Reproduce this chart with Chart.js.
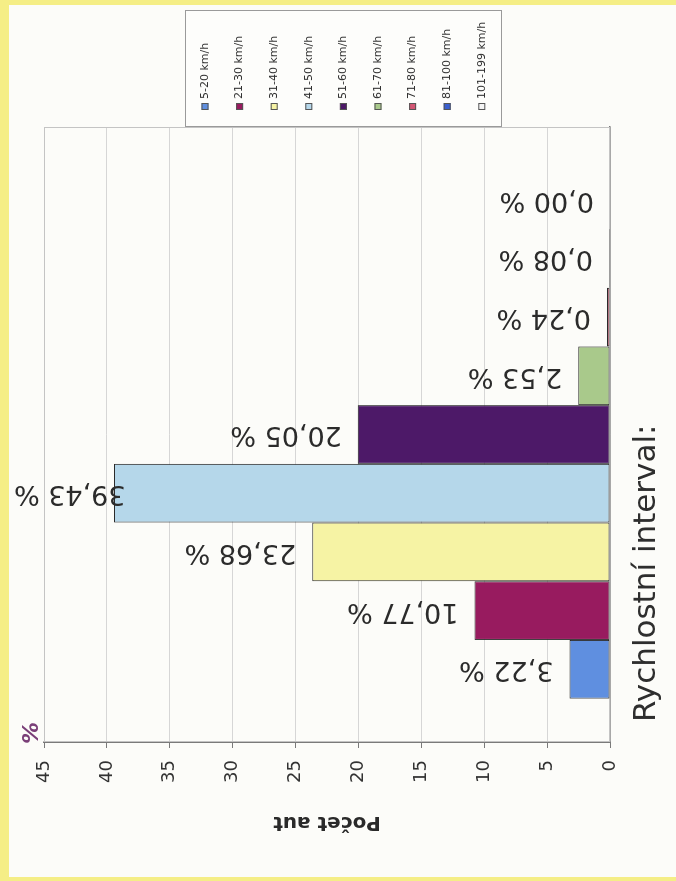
<!DOCTYPE html>
<html>
<head>
<meta charset="utf-8">
<script src="https://cdn.jsdelivr.net/npm/chart.js@4.4.1/dist/chart.umd.min.js"></script>
<style>
  html, body { margin:0; padding:0; width:676px; height:881px; overflow:hidden; background:#f5ee86; }
  #page { position:absolute; left:9px; top:5px; width:700px; height:872px; background:#fcfcf9; }
  /* the scanned chart is lying on its side: draw it upright, then turn it */
  #turn { position:absolute; left:0; top:0; width:881px; height:676px;
          transform-origin:0 0; transform:translateY(881px) rotate(-90deg); }
</style>
</head>
<body>
<div id="page"></div>
<div id="turn"><canvas id="c" width="881" height="676"></canvas></div>
<script>
/* ===== data ===== */
const INTERVALS = ['5-20 km/h','21-30 km/h','31-40 km/h','41-50 km/h','51-60 km/h','61-70 km/h','71-80 km/h','81-100 km/h','101-199 km/h'];
const PERCENT   = [3.22, 10.77, 23.68, 39.43, 20.05, 2.53, 0.24, 0.08, 0.00];
const FILLS     = ['#5f8fe0','#981b5f','#f6f3a4','#b5d7ea','#4d1968','#a9c98b','#d35673','#3a5fcf','#f4f4f4'];
const Y_MIN = 0, Y_MAX = 45, Y_STEP = 5;
const X_TITLE = 'Rychlostní interval:';
const Y_TITLE = 'Počet aut';

const FONT = '"DejaVu Sans", sans-serif';
const fmtPct = v => v.toFixed(2).replace('.', ',') + ' %';

// rámeček kolem plochy grafu
const plotFrame = {id:'plotFrame', beforeDatasetsDraw(c){
  const {ctx, chartArea:{left,right,top,bottom}} = c;
  ctx.save(); ctx.strokeStyle = '#c4c4c4'; ctx.lineWidth = 1;
  ctx.strokeRect(left+.5, top+.5, right-left-1, bottom-top-1); ctx.restore();
}};

// popisky hodnot nad sloupci (svisle)
const valueLabels = {id:'valueLabels', afterDatasetsDraw(c){
  const {ctx} = c;
  ctx.save(); ctx.font = '27px ' + FONT; ctx.fillStyle = '#2b2b2b';
  ctx.textAlign = 'left'; ctx.textBaseline = 'middle';
  c.data.datasets.forEach((ds, i) => {
    const bar = c.getDatasetMeta(i).data[0];
    const txt = fmtPct(ds.data[0]);
    const w = ctx.measureText(txt).width;
    let y0 = bar.y - 16;
    if (y0 - w < 14) y0 = 14 + w;
    ctx.save(); ctx.translate(bar.x, y0); ctx.rotate(-Math.PI/2); ctx.fillText(txt, 0, 0); ctx.restore();
  });
  ctx.restore();
}};

// legenda v rámečku vpravo, titulek osy x, značka %
const extras = {id:'extras', afterDraw(c){
  const {ctx, chartArea:{left,right,top,bottom}} = c;
  ctx.save();
  // legenda
  const lx = right, ly = 185, lw = 117, lh = 317;
  ctx.fillStyle = '#fdfdfb'; ctx.fillRect(lx, ly, lw, lh);
  ctx.strokeStyle = '#9a9a9a'; ctx.lineWidth = 1; ctx.strokeRect(lx+.5, ly+.5, lw-1, lh-1);
  ctx.font = '11px ' + FONT; ctx.textBaseline = 'middle'; ctx.textAlign = 'left';
  c.data.datasets.forEach((ds, i) => {
    const yy = 205 + i * 34.6;
    ctx.fillStyle = ds.backgroundColor; ctx.fillRect(lx + 17, yy - 3.5, 7, 7);
    ctx.strokeStyle = '#555'; ctx.strokeRect(lx + 17.5, yy - 3, 6, 6);
    ctx.fillStyle = '#333'; ctx.fillText(ds.label, lx + 28, yy);
  });
  // titulek osy x
  ctx.font = '31px ' + FONT; ctx.fillStyle = '#2e2e2e'; ctx.textBaseline = 'alphabetic';
  ctx.fillText(X_TITLE, left + 20, bottom + 45);
  // %
  ctx.font = 'italic bold 22px ' + FONT; ctx.fillStyle = '#7a3f78'; ctx.textAlign = 'center'; ctx.textBaseline = 'middle';
  ctx.fillText('%', left + 9, top - 12);
  ctx.restore();
}};

new Chart(document.getElementById('c'), {
  type: 'bar',
  data: {
    labels: [''],
    datasets: INTERVALS.map((name, i) => ({
      label: name, data: [PERCENT[i]], backgroundColor: FILLS[i],
      borderColor: '#2a2a2a', borderWidth: 1, borderSkipped: false,
      barPercentage: 1, categoryPercentage: 0.859
    }))
  },
  options: {
    responsive: false, animation: false,
    layout: {padding: {left: 47, top: 44, right: 127, bottom: 66}},
    plugins: {legend: {display: false}, tooltip: {enabled: false}},
    scales: {
      x: {
        grid: {display: false, drawTicks: false},
        ticks: {display: false},
        border: {color: '#7a7a7a', width: 1.5},
        afterFit: s => { s.height = 0; }
      },
      y: {
        min: Y_MIN, max: Y_MAX,
        ticks: {stepSize: Y_STEP, padding: 12, color: '#333', font: {family: FONT, size: 18}},
        grid: {color: '#d6d6d6', tickLength: 6, tickColor: '#7a7a7a'},
        border: {color: '#7a7a7a', width: 1.5},
        title: {display: true, text: Y_TITLE, color: '#2a2a2a', font: {family: FONT, size: 20, weight: 'bold'}, padding: {top: 0, bottom: 27}},
        afterFit: s => { s.width = 92; }
      }
    }
  },
  plugins: [plotFrame, valueLabels, extras]
});
</script>
</body>
</html>
